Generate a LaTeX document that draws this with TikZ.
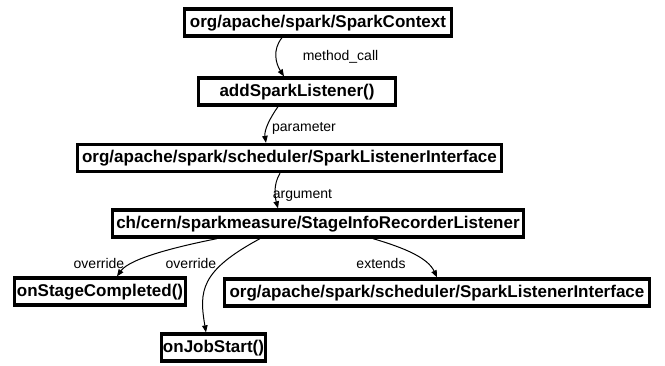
\documentclass[tikz,border=0pt]{standalone}
\usepackage{fontspec}
\setmainfont{Liberation Sans}
\usetikzlibrary{arrows.meta}
\begin{document}
\begin{tikzpicture}[x=1pt,y=-1pt,
  box/.style={draw, line width=3.3pt, inner sep=0pt, minimum height=27pt,
    font=\fontsize{17}{20}\selectfont\bfseries, text height=12.5pt, text depth=3.5pt},
  lbl/.style={font=\fontsize{14}{16}\selectfont, inner sep=0pt},
  edge/.style={-{Triangle[length=7pt,width=5.5pt]}, line width=1pt}]
\useasboundingbox (0,0) rectangle (665,365);
\node[box, minimum width=266.7pt] (n1) at (318,22.5) {org/apache/spark/SparkContext};
\node[box, minimum width=196.7pt] (n2) at (297,91.5) {addSparkListener()};
\node[box, minimum width=423.7pt] (n3) at (289.5,158) {org/apache/spark/scheduler/SparkListenerInterface};
\node[box, minimum width=410.7pt] (n4) at (318,223.5) {ch/cern/sparkmeasure/StageInfoRecorderListener};
\node[box, minimum width=170.7pt] (n5) at (100,291.5) {onStageCompleted()};
\node[box, minimum width=424.7pt] (n6) at (437,292.5) {org/apache/spark/scheduler/SparkListenerInterface};
\node[box, minimum width=103.7pt] (n7) at (213.5,347.5) {onJobStart()};

\node[lbl] (l1) at (340.5,57) {method\_call};
\node[lbl] (l2) at (304,128) {parameter};
\node[lbl] (l3) at (302.5,195) {argument};
\node[lbl] (l4) at (99,263) {override};
\node[lbl] (l5) at (191,263) {override};
\node[lbl] (l6) at (381,263) {extends};

\draw[edge] ([xshift=-36pt]n1.south) .. controls (272,50) and (276,64) .. ([xshift=-13pt]n2.north);
\draw[edge] ([xshift=-19pt]n2.south) .. controls (270,118) and (264,130) .. ([xshift=-23.5pt]n3.north);
\draw[edge] ([xshift=-9.5pt]n3.south) .. controls (273,185) and (275,197) .. ([xshift=-40pt]n4.north);
\draw[edge] ([xshift=-101pt]n4.south) .. controls (180,246) and (130,258) .. ([xshift=17pt]n5.north);
\draw[edge] ([xshift=-58pt]n4.south) .. controls (200,271) and (199,291) .. ([xshift=-7.5pt]n7.north);
\draw[edge] ([xshift=55pt]n4.south) .. controls (405,248) and (428,258) .. (n6.north);
\end{tikzpicture}
\end{document}
